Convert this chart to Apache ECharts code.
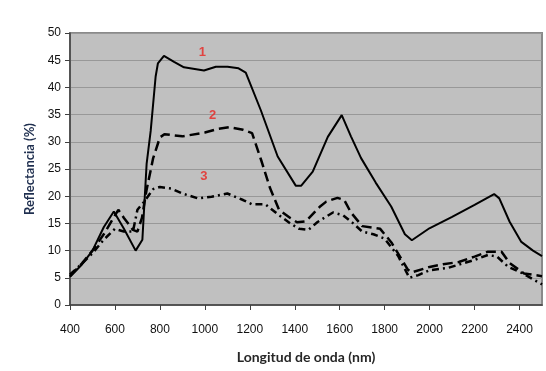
<!DOCTYPE html>
<html>
<head>
    <meta charset="utf-8">
    <script type="text/javascript" src="https://cdn.jsdelivr.net/npm/echarts@6/dist/echarts.min.js"></script>
    <title></title>
    <style>
        html, body { margin: 0; padding: 0; background: #fff; }
        #main { width: 546px; height: 371px; }
    </style>
</head>
<body>
<div id="main"></div>
<script type="text/javascript">
    // curva 1 (linea continua)
    var wl1 = [400, 450, 500, 550, 595, 640, 692, 722, 741, 759, 781, 791, 818, 863, 907, 996, 1049, 1101, 1150, 1182, 1249, 1324, 1405, 1428, 1480, 1547, 1609, 1650, 1695, 1760, 1829, 1890, 1921, 1999, 2100, 2200, 2287, 2310, 2356, 2408, 2460, 2500];
    var r1 = [5.2, 7.3, 10, 14.3, 17.2, 14, 10, 12, 26, 32, 42, 44.4, 45.8, 44.7, 43.7, 43.1, 43.8, 43.8, 43.5, 42.7, 35.8, 27.3, 21.9, 21.9, 24.5, 30.9, 34.9, 31, 27, 22.5, 18.1, 13, 11.9, 14.1, 16.2, 18.4, 20.4, 19.6, 15.3, 11.6, 10, 9];

    // curva 2 (guiones largos)
    var wl2 = [400, 450, 500, 550, 615, 640, 680, 700, 720, 740, 770, 800, 820, 900, 1000, 1060, 1110, 1170, 1210, 1250, 1290, 1330, 1380, 1410, 1450, 1510, 1540, 1590, 1620, 1650, 1700, 1780, 1830, 1903, 1920, 2000, 2060, 2130, 2200, 2260, 2320, 2356, 2420, 2500];
    var r2 = [5.3, 7.5, 10, 13, 17.5, 16, 13.8, 13.5, 16, 21, 27, 30.8, 31.4, 31, 31.7, 32.4, 32.7, 32.2, 31.6, 26.7, 21.5, 17.5, 16, 15.2, 15.4, 18, 19, 19.7, 19.3, 17, 14.5, 14, 11.5, 6.5, 6, 7, 7.5, 7.9, 8.9, 9.8, 9.8, 7.7, 5.8, 5.3];

    // curva 3 (guion-punto)
    var wl3 = [400, 450, 500, 550, 600, 640, 680, 700, 730, 770, 800, 850, 900, 970, 1030, 1100, 1170, 1210, 1270, 1330, 1380, 1420, 1460, 1500, 1530, 1570, 1615, 1660, 1700, 1750, 1800, 1860, 1910, 1950, 2000, 2080, 2200, 2260, 2300, 2350, 2410, 2470, 2500];
    var r3 = [5.6, 7.5, 9.5, 12, 14, 13.5, 13.5, 17.5, 19, 21.3, 21.7, 21.4, 20.5, 19.6, 19.9, 20.5, 19.3, 18.5, 18.5, 16.5, 15, 14, 13.8, 15.2, 16, 17, 16.5, 15, 13.5, 13, 12.2, 9, 5, 5.5, 6.4, 6.8, 8.3, 9.2, 8.9, 7, 5.9, 4.5, 3.8];

    // etiquetas numericas de las curvas
    var tagNames = ['1', '2', '3'];
    var tagWl = [989, 1034, 996];
    var tagR = [46.4, 34.9, 23.6];

    var xTicks = [400, 600, 800, 1000, 1200, 1400, 1600, 1800, 2000, 2200, 2400];

    function pairs(xs, ys) {
        var out = [];
        for (var i = 0; i < xs.length; i++) {
            out.push([xs[i], ys[i]]);
        }
        return out;
    }

    var tags = [];
    for (var i = 0; i < tagNames.length; i++) {
        tags.push([tagWl[i], tagR[i], tagNames[i]]);
    }

    var myChart = echarts.init(document.getElementById('main'));
    var option = {
        animation: false,
        backgroundColor: '#ffffff',
        grid: {
            left: 70,
            right: 4,
            top: 33,
            bottom: 66,
            show: true,
            backgroundColor: '#c0c0c0',
            borderColor: '#8a8a8a',
            borderWidth: 2
        },
        xAxis: {
            type: 'value',
            min: 400,
            max: 2500,
            interval: 200,
            name: 'Longitud de onda (nm)',
            nameLocation: 'middle',
            nameGap: 45,
            nameTextStyle: {
                fontFamily: 'Lato',
                fontWeight: 'bold',
                fontSize: 14,
                color: '#262626'
            },
            axisLine: {onZero: false, lineStyle: {color: '#404040', width: 1.5}},
            axisTick: {show: true, length: 5, lineStyle: {color: '#404040'}, customValues: xTicks},
            axisLabel: {
                customValues: xTicks,
                formatter: function (v) { return String(v); },
                margin: 19,
                fontFamily: 'Liberation Sans',
                fontSize: 12,
                color: '#111'
            },
            splitLine: {show: false}
        },
        yAxis: {
            type: 'value',
            min: 0,
            max: 50,
            interval: 5,
            name: 'Reflectancia (%)',
            nameLocation: 'middle',
            nameGap: 34,
            nameTextStyle: {
                fontFamily: 'Lato',
                fontWeight: 'bold',
                fontSize: 13,
                color: '#1f2f4f'
            },
            axisLine: {show: true, lineStyle: {color: '#404040', width: 1.5}},
            axisTick: {show: true, length: 5, lineStyle: {color: '#404040'}},
            axisLabel: {
                margin: 9,
                fontFamily: 'Liberation Sans',
                fontSize: 12,
                color: '#111'
            },
            splitLine: {show: true, lineStyle: {color: '#989898', width: 1}}
        },
        series: [{
            name: '1',
            type: 'line',
            data: pairs(wl1, r1),
            showSymbol: false,
            lineStyle: {color: '#000', width: 2}
        }, {
            name: '2',
            type: 'line',
            data: pairs(wl2, r2),
            showSymbol: false,
            lineStyle: {color: '#000', width: 2.5, type: [10, 5]}
        }, {
            name: '3',
            type: 'line',
            data: pairs(wl3, r3),
            showSymbol: false,
            lineStyle: {color: '#000', width: 2.5, type: [7, 4, 2, 4]}
        }, {
            name: 'etiquetas',
            type: 'scatter',
            data: tags,
            symbolSize: 0,
            label: {
                show: true,
                position: 'inside',
                formatter: function (p) { return p.value[2]; },
                color: '#e8231f',
                fontFamily: 'Liberation Sans',
                fontWeight: 'bold',
                fontSize: 13
            }
        }]
    };
    myChart.setOption(option);
</script>
</body>
</html>
